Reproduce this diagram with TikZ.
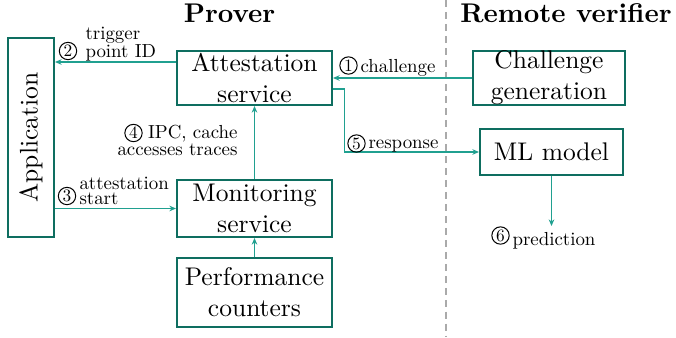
\documentclass[tikz,border=0pt]{standalone}
\usepackage{graphicx}
\usetikzlibrary{arrows.meta}
\definecolor{boxc}{HTML}{0E6E60}
\definecolor{arrc}{HTML}{20A090}
\definecolor{dashc}{HTML}{AAAAAA}
\def\u{0.392pt}
\newcommand\lbltxt[1]{\scalebox{0.74}{#1}}
\newcommand\cdig[1]{\scalebox{0.68}{#1}}
\tikzset{
  box/.style={draw=boxc, line width=0.8pt, inner sep=0pt, font=\fontsize{10}{12.2}\selectfont, align=center},
  conn/.style={draw=arrc, line width=0.4pt, -{Stealth[length=2.6pt,width=2.2pt]}},
  lbl/.style={font=\fontsize{10}{10}\selectfont, inner sep=0pt},
  cnum/.style={circle, draw=black, line width=0.4pt, minimum size=6.8pt, inner sep=0pt, font=\fontsize{10}{10}\selectfont},
  ttl/.style={font=\fontsize{10.6}{12}\selectfont\bfseries, inner sep=0pt},
  sep/.style={draw=dashc, line width=0.55pt, dash pattern=on 2.7pt off 2pt}
}
\begin{document}
\begin{tikzpicture}[x=\u,y=-\u]
\useasboundingbox (0,0) rectangle (676,337);
% separator
\coordinate (dtop) at (446,0);
\coordinate (dbot) at (446,337);
\draw[sep] (dtop) -- (dbot);
% titles
\node[ttl, anchor=base] (tprov) at (229.5,22) {Prover};
\node[ttl, anchor=base] (tver) at (566,22) {Remote verifier};
% boxes
\node[box, minimum width=199*\u, minimum height=46*\u, rotate=90] (app) at (31,137.5) {Application};
\node[box, minimum width=155*\u, minimum height=54*\u] (att) at (254.5,78) {Attestation\\service};
\node[box, minimum width=155*\u, minimum height=57*\u] (mon) at (254.5,208.5) {Monitoring\\service};
\node[box, minimum width=155*\u, minimum height=69*\u] (perf) at (254.5,292.5) {Performance\\counters};
\node[box, minimum width=152*\u, minimum height=54*\u] (chal) at (549,78) {Challenge\\generation};
\node[box, minimum width=143*\u, minimum height=46*\u] (ml) at (551.5,152) {ML model};
% connectors
\draw[conn] (chal.west) -- (att.east);
\coordinate (trg) at ([yshift=16*\u]att.west);
\draw[conn] (trg) -- (trg -| app.south);
\draw[conn] ([yshift=-11*\u]att.east) -- ++(11,0) |- (ml.west);
\draw[conn] (mon.west -| app.south) -- (mon.west);
\draw[conn] (mon.north) -- (att.south);
\draw[conn] (perf.north) -- (mon.south);
\coordinate (pend) at (551.5,226);
\draw[conn] (ml.south) -- (pend);
% labels
\node[cnum] (c1) at (348.5,65.5) {\cdig{1}};
\node[lbl, anchor=base west] (l1) at (360,72) {\lbltxt{challenge}};
\node[cnum] (c5) at (356.5,143.5) {\cdig{5}};
\node[lbl, anchor=base west] (l5) at (368,148) {\lbltxt{response}};
\node[cnum] (c2) at (68,51) {\cdig{2}};
\node[lbl, anchor=base west] (l2a) at (85,39) {\lbltxt{trigger}};
\node[lbl, anchor=base west] (l2b) at (85,57) {\lbltxt{point ID}};
\node[cnum] (c3) at (67,196) {\cdig{3}};
\node[lbl, anchor=base west] (l3a) at (79,189) {\lbltxt{attestation}};
\node[lbl, anchor=base west] (l3b) at (79,204) {\lbltxt{start}};
\node[cnum] (c4) at (133.5,133) {\cdig{4}};
\node[lbl, anchor=base east] (l4a) at (238,138) {\lbltxt{IPC, cache}};
\node[lbl, anchor=base east] (l4b) at (238,155) {\lbltxt{accesses traces}};
\node[cnum] (c6) at (500.5,235.5) {\cdig{6}};
\node[lbl, anchor=base west] (l6) at (512,245) {\lbltxt{prediction}};
\end{tikzpicture}
\end{document}
